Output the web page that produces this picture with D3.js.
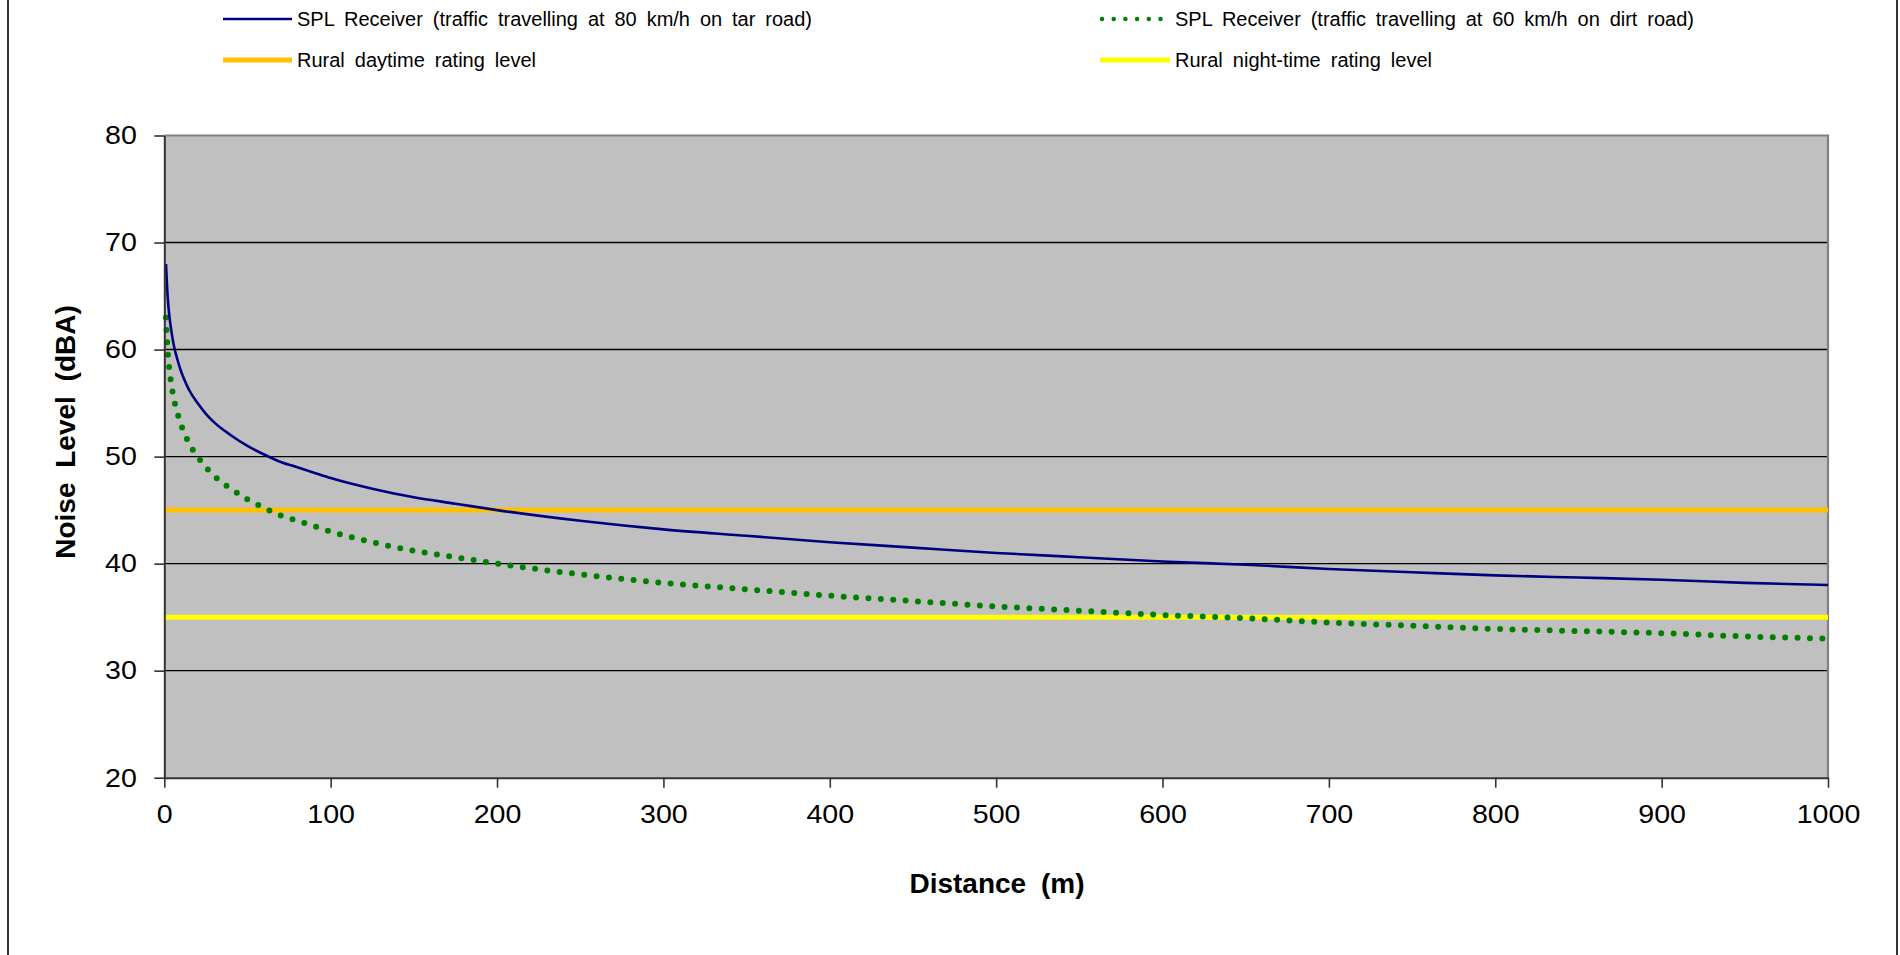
<!DOCTYPE html>
<html>
<head>
<meta charset="utf-8">
<script src="https://cdn.jsdelivr.net/npm/d3@7"></script>
<style>
  html, body { margin: 0; padding: 0; background: #fff; }
  svg { display: block; font-family: "Liberation Sans", Arial, sans-serif; }
</style>
</head>
<body>
<svg id="chart" width="1900" height="955"></svg>
<script>
// ---- Data ----
const distances = [1, 2, 3, 4, 5, 6, 8, 10, 12, 15, 20, 25, 30, 40, 50, 60, 70, 80, 90, 100,
  125, 150, 175, 200, 250, 300, 350, 400, 450, 500, 550, 600, 650, 700, 750, 800, 850, 900, 950, 1000];
const splTar80 = [68.0, 65.0, 63.2, 62.0, 61.0, 60.2, 59.0, 58.0, 57.2, 56.2, 55.0, 54.0, 53.2, 52.0, 51.0, 50.2, 49.5, 49.0, 48.5, 48.0,
  47.0, 46.2, 45.6, 45.0, 44.0, 43.2, 42.6, 42.0, 41.5, 41.0, 40.6, 40.2, 39.9, 39.5, 39.2, 38.9, 38.7, 38.5, 38.2, 38.0];
const splDirt60 = [63.0, 60.0, 58.2, 57.0, 56.0, 55.2, 54.0, 53.0, 52.2, 51.2, 50.0, 49.0, 48.2, 47.0, 46.0, 45.2, 44.5, 44.0, 43.5, 43.0,
  42.0, 41.2, 40.6, 40.0, 39.0, 38.2, 37.6, 37.0, 36.5, 36.0, 35.6, 35.2, 34.9, 34.5, 34.2, 33.9, 33.7, 33.5, 33.2, 33.0];
const ratingDistances = [0, 1000];
const ruralDay = [45, 45];
const ruralNight = [35, 35];
const xTicks = [0, 100, 200, 300, 400, 500, 600, 700, 800, 900, 1000];
const yTicks = [20, 30, 40, 50, 60, 70, 80];
const legendLabels = [
  "SPL Receiver (traffic travelling at 80 km/h on tar road)",
  "SPL Receiver (traffic travelling at 60 km/h on dirt road)",
  "Rural daytime rating level",
  "Rural night-time rating level"
];
const xTitle = "Distance (m)";
const yTitle = "Noise Level (dBA)";

// ---- Layout ----
const svg = d3.select("#chart");
const plot = { left: 164.3, right: 1828, top: 135.5, bottom: 777.7 };
const x = d3.scaleLinear().domain([0, 1000]).range([plot.left, plot.right]);
const y = d3.scaleLinear().domain([20, 80]).range([plot.bottom, plot.top]);

// outer frame (only sides visible)
svg.append("rect").attr("x", 8).attr("y", -10).attr("width", 1889).attr("height", 980)
  .attr("fill", "none").attr("stroke", "#000").attr("stroke-width", 1.6);

// plot background
svg.append("rect").attr("x", plot.left).attr("y", plot.top)
  .attr("width", plot.right - plot.left).attr("height", plot.bottom - plot.top)
  .attr("fill", "#c0c0c0");

// gridlines
svg.append("g").selectAll("line").data(yTicks.filter(t => t > 20 && t < 80)).join("line")
  .attr("x1", plot.left).attr("x2", plot.right)
  .attr("y1", d => y(d)).attr("y2", d => y(d))
  .attr("stroke", "#000").attr("stroke-width", 1.4);

// plot border top/right grey
svg.append("path")
  .attr("d", `M${plot.left},${plot.top}H${plot.right}V${plot.bottom}`)
  .attr("fill", "none").attr("stroke", "#808080").attr("stroke-width", 2.2);

// rating lines
const line = d3.line().x(d => x(d[0])).y(d => y(d[1]));
svg.append("path").datum(d3.zip(ratingDistances, ruralDay)).attr("d", line)
  .attr("fill", "none").attr("stroke", "#ffc000").attr("stroke-width", 5);
svg.append("path").datum(d3.zip(ratingDistances, ruralNight)).attr("d", line)
  .attr("fill", "none").attr("stroke", "#ffff00").attr("stroke-width", 5);

// series
const curve = d3.line().x(d => x(d[0])).y(d => y(d[1])).curve(d3.curveMonotoneX);
svg.append("path").datum(d3.zip(distances, splDirt60)).attr("d", curve)
  .attr("fill", "none").attr("stroke", "#008000").attr("stroke-width", 6)
  .attr("stroke-linecap", "round").attr("stroke-dasharray", "0 12.4");
svg.append("path").datum(d3.zip(distances, splTar80)).attr("d", curve)
  .attr("fill", "none").attr("stroke", "#000080").attr("stroke-width", 2.6);

// axes
const xAxis = d3.axisBottom(x).tickValues(xTicks).tickFormat(d3.format("d"))
  .tickSize(10).tickSizeOuter(0).tickPadding(17);
const gx = svg.append("g").attr("transform", `translate(0,${plot.bottom})`).call(xAxis);
gx.select(".domain").attr("stroke", "#333").attr("stroke-width", 2);
gx.selectAll(".tick line").attr("stroke", "#333").attr("stroke-width", 1.6);
gx.selectAll(".tick text").attr("font-size", 26).attr("fill", "#000")
  .attr("font-family", "Liberation Sans, Arial, sans-serif")
  .attr("transform", "scale(1.1,1)");

const yAxis = d3.axisLeft(y).tickValues(yTicks).tickFormat(d3.format("d"))
  .tickSize(10).tickSizeOuter(0).tickPadding(15);
const gy = svg.append("g").attr("transform", `translate(${plot.left},0)`).call(yAxis);
gy.select(".domain").attr("stroke", "#333").attr("stroke-width", 2);
gy.selectAll(".tick line").attr("stroke", "#333").attr("stroke-width", 1.6);
gy.selectAll(".tick text").attr("font-size", 26).attr("fill", "#000")
  .attr("font-family", "Liberation Sans, Arial, sans-serif")
  .attr("transform", "scale(1.1,1)");

// axis titles
svg.append("text").attr("x", 997).attr("y", 893).attr("text-anchor", "middle")
  .attr("font-size", 28).attr("font-weight", "bold").attr("word-spacing", 7).text(xTitle);
const yTitleG = svg.append("g").attr("transform", "translate(76,432)");
const yTitleT = yTitleG.append("text").attr("transform", "rotate(-90)")
  .attr("text-anchor", "middle")
  .attr("font-size", 28).attr("font-weight", "bold").attr("word-spacing", 7).text(yTitle);
// align the rendered title box to the reference position (centre x 65, centre y 432)
{
  const r = yTitleT.node().getBoundingClientRect();
  const s = svg.node().getBoundingClientRect();
  const cx = r.left - s.left + r.width / 2;
  const cy = r.top - s.top + r.height / 2;
  yTitleG.attr("transform", `translate(${76 + (65 - cx)},${432 + (432 - cy)})`);
}

// legend
const legendItems = [
  { label: legendLabels[0], color: "#000080", width: 2.4, dash: null, x0: 223, x1: 292, tx: 297, ty: 19, target: 515 },
  { label: legendLabels[1], color: "#008000", width: 4.5, dash: "0 11.7", x0: 1102, x1: 1168, tx: 1175, ty: 19, target: 519 },
  { label: legendLabels[2], color: "#ffc000", width: 5, dash: null, x0: 223, x1: 292, tx: 297, ty: 60, target: 239 },
  { label: legendLabels[3], color: "#ffff00", width: 5, dash: null, x0: 1100, x1: 1170, tx: 1175, ty: 60, target: 257 }
];
const lg = svg.append("g");
legendItems.forEach(it => {
  lg.append("line").attr("x1", it.x0).attr("x2", it.x1).attr("y1", it.ty).attr("y2", it.ty)
    .attr("stroke", it.color).attr("stroke-width", it.width)
    .attr("stroke-linecap", it.dash ? "round" : "butt")
    .attr("stroke-dasharray", it.dash);
  const t = lg.append("text").attr("x", it.tx).attr("y", it.ty + 7)
    .attr("font-size", 20).attr("fill", "#000").text(it.label);
  const natural = t.node().getComputedTextLength();
  const spaces = (it.label.match(/ /g) || []).length;
  if (spaces > 0) t.attr("word-spacing", Math.max(0, (it.target - natural) / spaces));
});
</script>
</body>
</html>
